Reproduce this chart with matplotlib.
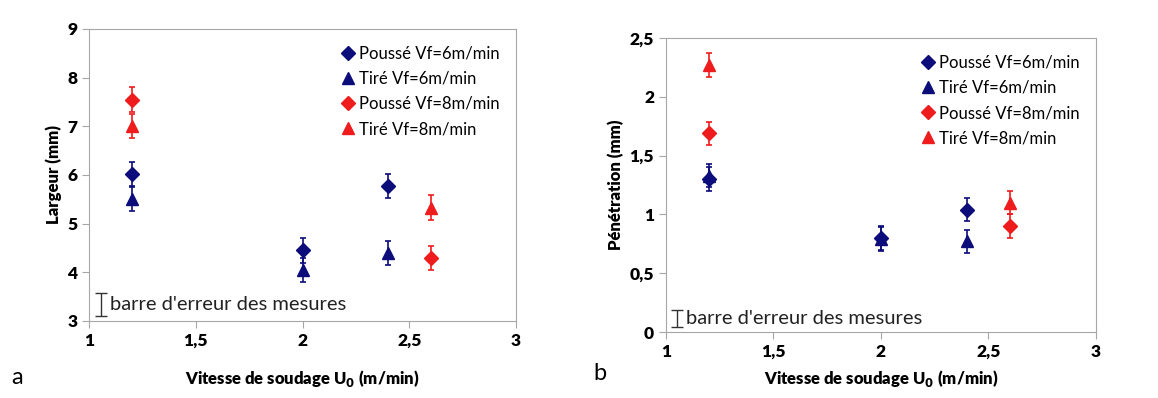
import matplotlib
matplotlib.use("Agg")
import matplotlib.pyplot as plt

plt.rcParams['font.family'] = ['Lato', 'DejaVu Sans']

# series labels
labels = ["Poussé Vf=6m/min", "Tiré Vf=6m/min", "Poussé Vf=8m/min", "Tiré Vf=8m/min"]

# vitesse de soudage U0 (m/min)
x_vf6 = [1.2, 2.0, 2.4]
x_vf8 = [1.2, 2.6]

# largeur (mm)
larg_pousse6 = [6.02, 4.45, 5.78]
larg_tire6 = [5.50, 4.05, 4.40]
larg_pousse8 = [7.55, 4.30]
larg_tire8 = [7.00, 5.33]
larg_err = 0.25

# penetration (mm)
pen_pousse6 = [1.30, 0.80, 1.04]
pen_tire6 = [1.33, 0.79, 0.77]
pen_pousse8 = [1.69, 0.90]
pen_tire8 = [2.27, 1.10]
pen_err = 0.10

xticks = [1, 1.5, 2, 2.5, 3]
xtick_labels = ["1", "1,5", "2", "2,5", "3"]
yticks_a = [3, 4, 5, 6, 7, 8, 9]
yticks_b = [0, 0.5, 1, 1.5, 2, 2.5]
ytick_labels_b = ["0", "0,5", "1", "1,5", "2", "2,5"]

blue = "#0c0c7a"
red = "#ee1c1c"

fig = plt.figure(figsize=(11.58, 3.98), dpi=100)
ax1 = fig.add_axes([0.0769, 0.1935, 0.3687, 0.7337])
ax2 = fig.add_axes([0.5751, 0.1658, 0.3713, 0.7387])


def draw(ax, p6, t6, p8, t8, err):
    kw = dict(capsize=2, elinewidth=1.2, capthick=1.2, linestyle='none')
    ax.errorbar(x_vf6, p6, yerr=err, fmt='D', ms=7, color=blue, label=labels[0], **kw)
    ax.errorbar(x_vf6, t6, yerr=err, fmt='^', ms=9, color=blue, label=labels[1], **kw)
    ax.errorbar(x_vf8, p8, yerr=err, fmt='D', ms=7, color=red, label=labels[2], **kw)
    ax.errorbar(x_vf8, t8, yerr=err, fmt='^', ms=9, color=red, label=labels[3], **kw)
    for s in ax.spines.values():
        s.set_color("#a6a6a6")
    ax.tick_params(direction='out', length=5, color="#a6a6a6", labelsize=12.5)
    ax.set_xlim(1, 3)
    ax.set_xticks(xticks)
    ax.set_xticklabels(xtick_labels, fontweight='heavy')
    handles, labs = ax.get_legend_handles_labels()
    handles = [h[0] for h in handles]
    ax.legend(handles, labs, loc='upper right', frameon=False, fontsize=12,
              handletextpad=0.0, labelspacing=0.55, borderaxespad=0.6,
              handlelength=1.3)
    ax.set_xlabel("Vitesse de soudage U$_\\mathbf{0}$ (m/min)", fontweight='heavy', fontsize=12)


draw(ax1, larg_pousse6, larg_tire6, larg_pousse8, larg_tire8, larg_err)
ax1.set_ylim(3, 9)
ax1.set_yticks(yticks_a)
ax1.set_yticklabels([str(v) for v in yticks_a], fontweight='heavy')
ax1.set_ylabel("Largeur (mm)", fontweight='heavy', fontsize=12)
ax1.xaxis.labelpad = 14
ax1.errorbar([1.056], [3.34], yerr=0.24, fmt='none', color='#333333', capsize=4, elinewidth=1)
ax1.text(1.10, 3.34, "barre d'erreur des mesures", fontsize=14.5, va='center', color='#222222')

draw(ax2, pen_pousse6, pen_tire6, pen_pousse8, pen_tire8, pen_err)
ax2.set_ylim(0, 2.5)
ax2.set_yticks(yticks_b)
ax2.set_yticklabels(ytick_labels_b, fontweight='heavy')
ax2.set_ylabel("Pénétration (mm)", fontweight='heavy', fontsize=12)
ax2.xaxis.labelpad = 6
ax2.errorbar([1.051], [0.115], yerr=0.072, fmt='none', color='#333333', capsize=4, elinewidth=1)
ax2.text(1.095, 0.115, "barre d'erreur des mesures", fontsize=14.5, va='center', color='#222222')

fig.text(0.010, 0.035, "a", fontsize=17)
fig.text(0.512, 0.045, "b", fontsize=17)

fig.savefig("out.png", dpi=100, facecolor='white')
